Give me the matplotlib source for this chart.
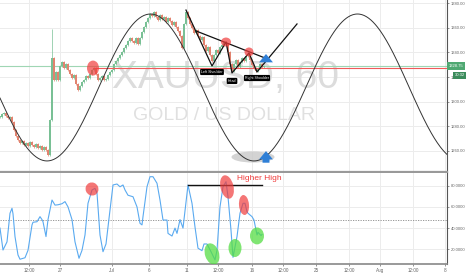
import numpy as np
import matplotlib
matplotlib.use("Agg")
import matplotlib.pyplot as plt
import matplotlib.transforms as mtransforms
from matplotlib import font_manager
from matplotlib.patches import Ellipse

# narrow font looks closest to the tradingview labels
names = {f.name for f in font_manager.fontManager.ttflist}
narrow = "Liberation Sans Narrow" if "Liberation Sans Narrow" in names else "Liberation Sans"
plt.rcParams["font.family"] = [narrow, "DejaVu Sans"]

# ---- data ----
# hourly closes, one bar every 2 time units
closes = [1287.5, 1289.9, 1290.7, 1288.3, 1286.6, 1287.5, 1283.4, 1276.9, 1272.0, 1268.7,
          1266.3, 1267.9, 1264.7, 1266.3, 1263.9, 1267.1, 1264.7, 1263.0, 1265.5, 1262.2,
          1263.9, 1260.6, 1263.0, 1260.6, 1256.5, 1285.0, 1335.5, 1317.6, 1324.1, 1317.6,
          1329.0, 1332.2, 1327.3, 1330.6, 1325.7, 1322.5, 1319.2, 1321.7, 1314.3, 1309.4,
          1312.7, 1315.9, 1317.6, 1320.8, 1319.2, 1322.5, 1325.7, 1327.3, 1322.5, 1317.6,
          1319.2, 1320.8, 1317.6, 1318.4, 1321.7, 1324.1, 1325.7, 1330.6, 1333.0, 1335.5,
          1337.9, 1340.4, 1343.6, 1346.1, 1349.3, 1351.8, 1349.3, 1347.7, 1351.8, 1346.9,
          1351.8, 1356.6, 1360.7, 1364.8, 1368.1, 1371.3, 1369.7, 1372.9, 1368.9, 1366.4,
          1370.5, 1367.2, 1368.9, 1364.8, 1368.1, 1365.6, 1362.3, 1364.8, 1360.7, 1357.5,
          1353.4, 1343.6, 1363.2, 1372.9, 1368.1, 1363.2, 1359.9, 1355.8, 1358.3, 1353.4,
          1350.1, 1352.6, 1346.1, 1341.2, 1344.4, 1337.9, 1333.0, 1337.9, 1342.0, 1339.6,
          1344.4, 1346.1, 1348.5, 1346.9, 1340.4, 1330.6, 1324.9, 1330.6, 1333.9, 1328.2,
          1332.2, 1335.5, 1333.0, 1337.1, 1338.7, 1333.9, 1329.8, 1327.3, 1324.9, 1327.3,
          1330.6, 1328.2, 1328.75]
spike_bar = 26
spike_high = 1359.1
last_price = 1328.75
red_level = 1327.6
red_level_start = 93

# oscillator (time, value)
osc_t = [0, 3, 7, 10, 12, 13, 15, 18, 20, 25, 28, 32, 33, 37, 40, 42, 43, 46, 48, 52,
         55, 58, 62, 65, 68, 72, 75, 79, 82, 85, 88, 92, 95, 97, 100, 103, 106, 110, 113, 117,
         120, 123, 125, 128, 133, 137, 140, 142, 143, 147, 150, 153, 157, 160, 163, 167, 168, 172, 175, 177,
         180, 183, 188, 192, 195, 198, 202, 204, 207, 211, 215, 217, 220, 223, 226, 228, 231, 233, 237, 240,
         243, 245, 247, 248, 252, 254, 257, 258, 261, 262]
osc_v = [40, 19.3, 27, 54, 58.7, 53.5, 32, 14.6, 10.6, 12, 19, 43, 45.5, 46, 50.8, 48, 46, 32, 48, 66.5,
         61.7, 62, 63, 65, 60, 48, 27, 11.5, 19, 33.5, 63.4, 76, 77.5, 73, 33.5, 17.7, 25, 57, 80.7, 81.6,
         79, 80.7, 76, 71, 69.6, 60, 44.5, 43, 50.8, 79, 88.5, 88.5, 82.3, 66.5, 47.6, 47.6, 35, 32.5, 40, 35,
         48, 40, 80.7, 63.4, 41, 21, 18.7, 25, 25, 17.7, 10, 19, 60, 79, 83.8, 69.6, 38, 12.4, 32, 54,
         63.4, 63.4, 55.5, 54, 50.8, 47.6, 33.5, 36, 33, 34]
osc_mid = 48

tick_t = [29, 60, 112, 149, 187, 218, 252, 283, 316, 349, 380, 413, 445]
tick_lbl = ["12:00", "27", "Jul", "6", "11", "12:00", "16", "12:00", "25", "12:00", "Aug", "12:00", "8"]
price_ticks = [1260, 1280, 1300, 1320, 1340, 1360, 1380]
osc_ticks = [20, 40, 60, 80]

# drawings
sine_trough_t = 47
sine_half_period = 103.5
sine_low, sine_high = 1251.7, 1371.3
hs_t = [186, 212, 226, 232, 249, 257, 297]
hs_p = [1374.5, 1329.0, 1348.5, 1323.3, 1339.6, 1324.1, 1363.2]
neck_t = [196, 265]
neck_p = [1357.5, 1335.5]
hs_labels = [("Left Shoulder", 212, 1324.1), ("Head", 232, 1316.8), ("Right Shoulder", 257, 1319.2)]
red_top = [(93, 1327.3, 12, 12.2), (226, 1348.5, 10, 7.3), (249, 1340.4, 9, 7.3)]
red_bot = [(92, 76.9, 13, 12.3, -20), (227, 78.8, 13, 22.6, 15), (244, 61.8, 10, 18.9, 5)]
green_bot = [(212, 15.6, 14, 20.7, 20), (235, 21.2, 13, 17, 0), (257, 32.6, 14, 16, 0)]
hh_t = [188, 262]
hh_v = 80.7

# ---- figure ----
W, H = 466, 275
fig = plt.figure(figsize=(W / 100, H / 100), dpi=100)
ax1 = fig.add_axes([0, 1 - 172 / H, 447 / W, 172 / H])
ax2 = fig.add_axes([0, 1 - 264 / H, 447 / W, 91 / H])
xmax = 447
ax1.set_xlim(0, xmax)
ax2.set_xlim(0, xmax)
ax1.set_ylim(1242.7, 1382.7)
ax2.set_ylim(6.1, 92.0)

grid_c = "#ececec"
for ax in (ax1, ax2):
    for t in tick_t:
        ax.axvline(t, color=grid_c, lw=0.7, zorder=0)
    for s in ax.spines.values():
        s.set_visible(False)
    ax.spines["right"].set_visible(True)
    ax.spines["right"].set_color("#555555")
    ax.spines["right"].set_linewidth(0.8)
    ax.yaxis.tick_right()
    ax.tick_params(axis="y", labelsize=3.0, colors="#666666", length=1.5, width=0.5, pad=1)
for p in price_ticks:
    ax1.axhline(p, color=grid_c, lw=0.7, zorder=0)
for v in osc_ticks:
    ax2.axhline(v, color=grid_c, lw=0.7, zorder=0)

ax1.spines["bottom"].set_visible(True)
ax1.spines["bottom"].set_color("#999999")
ax1.spines["bottom"].set_linewidth(1.6)
ax2.spines["bottom"].set_visible(True)
ax2.spines["bottom"].set_color("#888888")
ax2.spines["bottom"].set_linewidth(1.2)

ax1.set_xticks([])
ax1.set_yticks(price_ticks)
ax1.set_yticklabels([f"{p:.2f}" for p in price_ticks])
ax2.set_yticks(osc_ticks)
ax2.set_yticklabels([f"{v:.4f}" for v in osc_ticks])
ax2.set_xticks(tick_t)
ax2.set_xticklabels(tick_lbl)
ax2.tick_params(axis="x", labelsize=3.3, colors="#666666", length=1.5, width=0.5, pad=1.5)

# watermark
ax1.text(225, 1311.1, "XAUUSD, 60", fontsize=28, color="#dcdcdc", ha="center", va="baseline", zorder=0.5)
ax1.text(224, 1285.0, "GOLD / US DOLLAR", fontsize=14, color="#e0e0e0", ha="center", va="baseline", zorder=0.5)

# candles
c = np.array(closes)
o = np.r_[c[0], c[:-1]]
t = np.arange(len(c)) * 2
up = c >= o
hi = np.maximum(o, c) + 1.0
lo = np.minimum(o, c) - 1.0
hi[spike_bar] = spike_high
col = np.where(up, "#79c095", "#e2836f")
ax1.vlines(t, lo, hi, colors=col, lw=0.5, zorder=2)
ax1.bar(t, np.where(np.abs(c - o) < 0.4, 0.4, c - o), bottom=o, width=1.3, color=col, zorder=2, linewidth=0)

# price lines
ax1.axhline(last_price, color="#9fd6b4", lw=0.8, zorder=1.5)
ax1.hlines(red_level, red_level_start, xmax, color="#f05a5a", lw=0.8, zorder=3)

# sine drawing
ts = np.linspace(0, xmax, 600)
mid = (sine_low + sine_high) / 2
amp = (sine_high - sine_low) / 2
ax1.plot(ts, mid - amp * np.cos(np.pi * (ts - sine_trough_t) / sine_half_period), color="#333333", lw=0.7, zorder=4)

# head & shoulders
ax1.plot(hs_t, hs_p, color="#111111", lw=0.9, zorder=4)
ax1.plot(neck_t, neck_p, color="#111111", lw=0.9, zorder=4)
for txt, x, y in hs_labels:
    ax1.text(x, y, txt, fontsize=2.6, color="white", ha="center", va="center", zorder=6,
             bbox=dict(boxstyle="round,pad=0.3", fc="black", ec="none"))

for x, y, w, h in red_top:
    ax1.add_patch(Ellipse((x, y), w, h, color="#f03c3c", alpha=0.7, lw=0, zorder=5))
ax1.add_patch(Ellipse((253, 1254.9), 43, 9, color="#c8c8c8", alpha=0.8, lw=0, zorder=3))

arrow = dict(arrowstyle="simple,head_width=1.0,head_length=0.6,tail_width=0.5", color="#2f7fd6", lw=0)
ax1.annotate("", xy=(266, 1341.0), xytext=(266, 1330.0), arrowprops=arrow, zorder=7)
ax1.annotate("", xy=(266, 1262.0), xytext=(266, 1248.0), arrowprops=arrow, zorder=7)

# right-hand price badges
tr = mtransforms.blended_transform_factory(ax1.transAxes, ax1.transData)
ax1.text(1.004, last_price, f"{last_price:.2f}", transform=tr, fontsize=3.0, color="white",
         ha="left", va="center", clip_on=False, zorder=8,
         bbox=dict(boxstyle="square,pad=0.45", fc="#4fa872", ec="none"))
ax1.text(1.0 + 17.5 / 447, last_price - 7.5, "30:32", transform=tr, fontsize=3.0, color="white",
         ha="right", va="center", clip_on=False, zorder=8,
         bbox=dict(boxstyle="square,pad=0.35", fc="#3c8c5c", ec="none"))

# oscillator
ax2.plot(osc_t, osc_v, color="#5aaaf0", lw=0.8, zorder=3)
ax2.axhline(osc_mid, color="#888888", lw=0.6, ls=(0, (1.5, 1.5)), zorder=2)
ax2.plot(hh_t, [hh_v, hh_v], color="#111111", lw=1.0, zorder=4)
ax2.text(237, 85.4, "Higher High", fontsize=6, color="#f03c3c", ha="left", va="baseline", zorder=6)
for x, y, w, h, a in red_bot:
    ax2.add_patch(Ellipse((x, y), w, h, angle=a, color="#f03c3c", alpha=0.7, lw=0, zorder=5))
for x, y, w, h, a in green_bot:
    ax2.add_patch(Ellipse((x, y), w, h, angle=a, color="#55dd44", alpha=0.75, lw=0, zorder=5))

fig.savefig("out.png", dpi=100)
